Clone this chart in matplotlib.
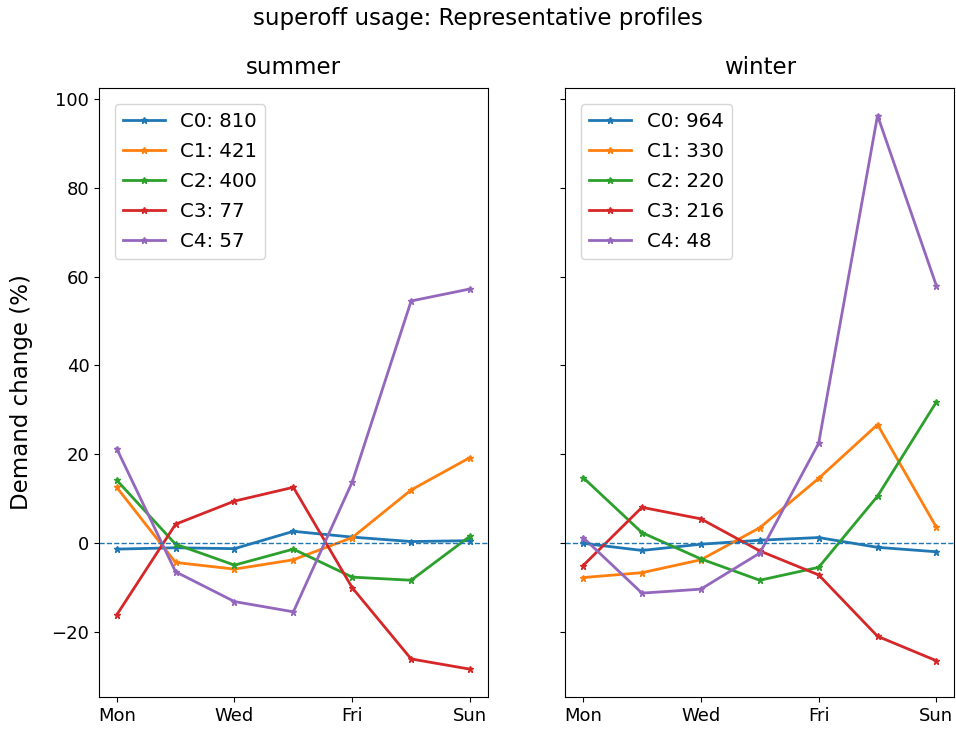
"""
Representative weekly profiles for superoff usage, summer vs winter.
"""

import numpy as np
import matplotlib
matplotlib.use('Agg')
import matplotlib.pyplot as plt

days = ['Mon', 'Tue', 'Wed', 'Thu', 'Fri', 'Sat', 'Sun']

# summer clusters (% change)
summer_labels = ['C0: 810', 'C1: 421', 'C2: 400', 'C3: 77', 'C4: 57']
summer_c0 = [-1.3, -1.0, -1.2, 2.7, 1.4, 0.4, 0.6]
summer_c1 = [12.6, -4.3, -5.8, -3.7, 1.3, 12.0, 19.3]
summer_c2 = [14.2, -0.2, -4.9, -1.3, -7.6, -8.3, 1.6]
summer_c3 = [-16.1, 4.3, 9.5, 12.6, -10.0, -26.0, -28.3]
summer_c4 = [21.3, -6.4, -13.1, -15.4, 13.8, 54.5, 57.2]

# winter clusters (% change)
winter_labels = ['C0: 964', 'C1: 330', 'C2: 220', 'C3: 216', 'C4: 48']
winter_c0 = [0.0, -1.6, -0.2, 0.7, 1.3, -0.9, -1.9]
winter_c1 = [-7.7, -6.6, -3.7, 3.5, 14.6, 26.7, 3.6]
winter_c2 = [14.8, 2.4, -3.5, -8.3, -5.4, 10.6, 31.8]
winter_c3 = [-5.0, 8.1, 5.5, -1.7, -7.1, -20.9, -26.4]
winter_c4 = [1.3, -11.2, -10.3, -2.2, 22.5, 96.2, 57.9]

summer = [summer_c0, summer_c1, summer_c2, summer_c3, summer_c4]
winter = [winter_c0, winter_c1, winter_c2, winter_c3, winter_c4]

x = np.arange(len(days))

plt.rcParams.update({'font.size': 13})
fig, axes = plt.subplots(1, 2, figsize=(9.56, 7.32), dpi=100, sharey=True)
fig.subplots_adjust(left=0.1036, right=0.998, top=0.88, bottom=0.048, wspace=0.2)

for ax, season, profiles, labels in zip(axes, ['summer', 'winter'],
                                        [summer, winter],
                                        [summer_labels, winter_labels]):
    for vals, lab in zip(profiles, labels):
        ax.plot(x, vals, marker='*', lw=2, ms=5, label=lab)
    ax.axhline(0, ls='--', lw=1, color='C0')
    ax.set_title(season, fontsize=16.5, pad=10)
    ax.set_xticks(x[::2])
    ax.set_xticklabels(days[::2])
    ax.legend(loc='upper left', fontsize=14.2, borderaxespad=0.8,
              handlelength=2.13, labelspacing=0.56, handletextpad=0.8)

axes[0].set_ylabel('Demand change (%)', fontsize=16.5)
axes[0].yaxis.set_label_coords(-0.17, 0.5)
fig.suptitle('superoff usage: Representative profiles', fontsize=16.5, y=0.99)

fig.savefig('out.png', dpi=100)
